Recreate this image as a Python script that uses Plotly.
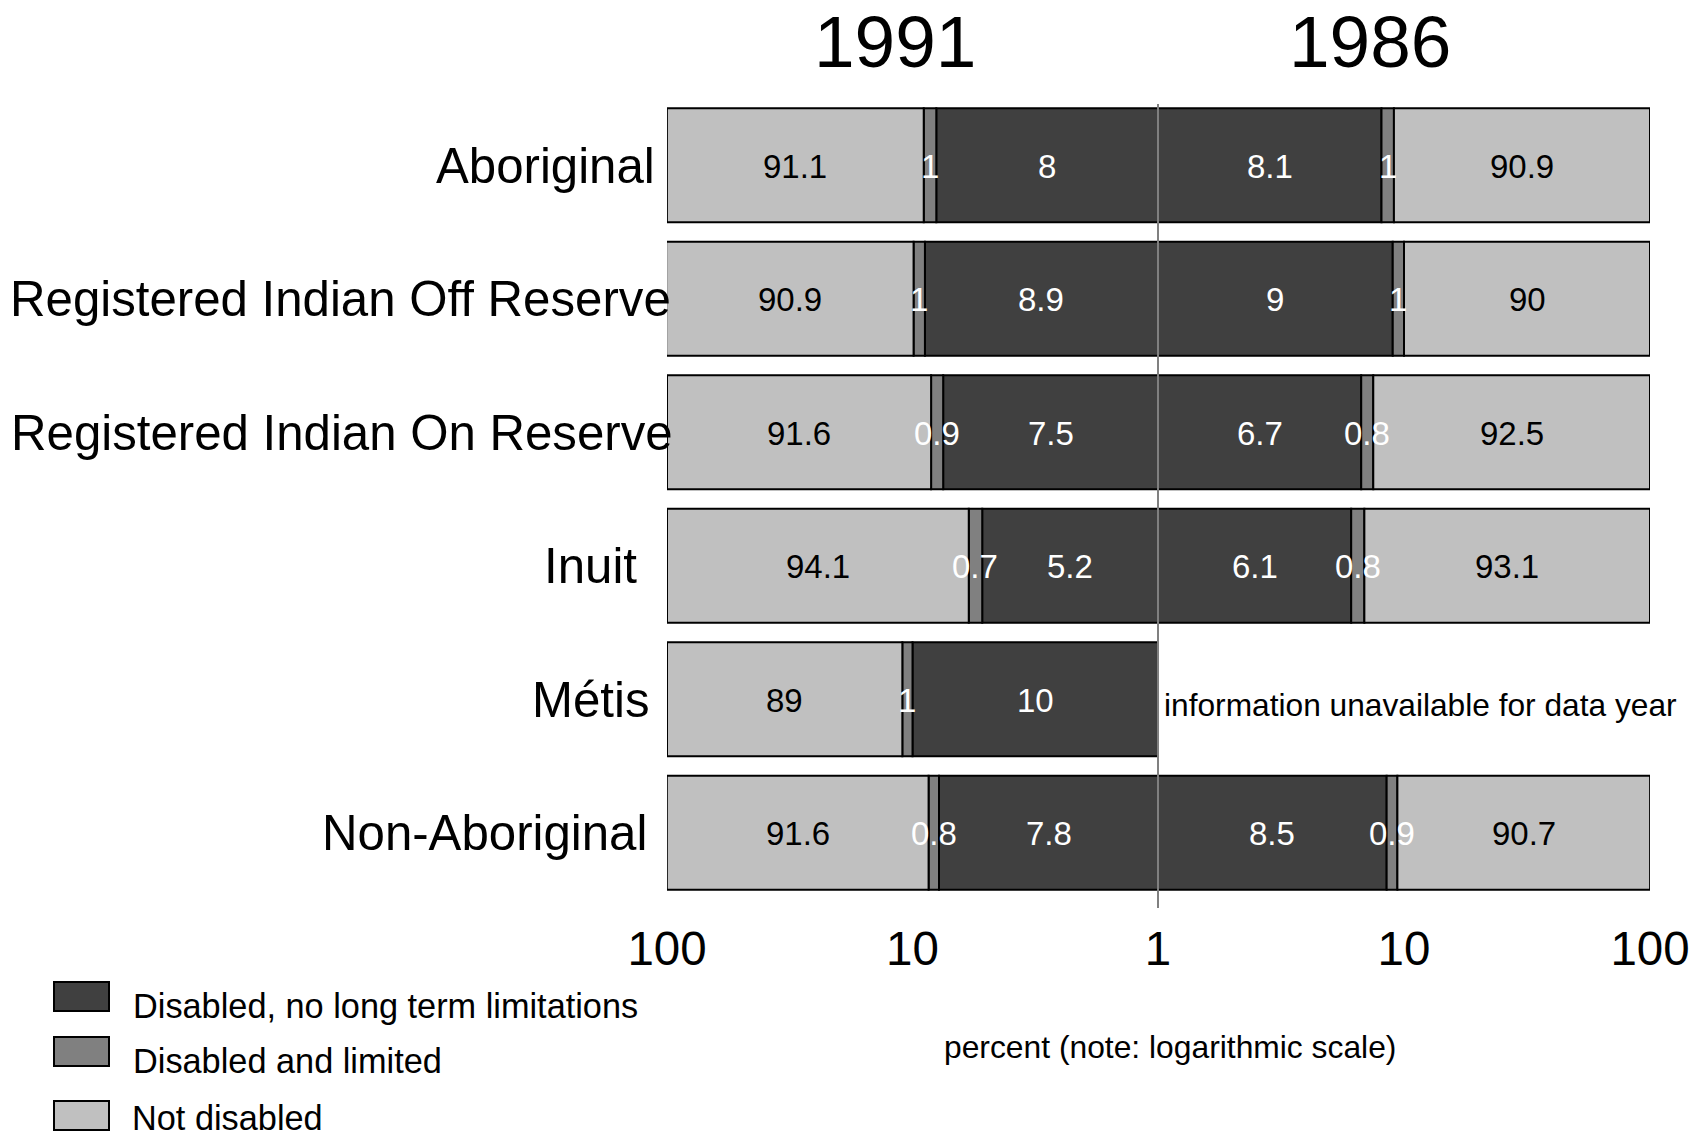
import math
import plotly.graph_objects as go

# ---- data -------------------------------------------------------------
categories = [
    "Aboriginal",
    "Registered Indian Off Reserve",
    "Registered Indian On Reserve",
    "Inuit",
    "Métis",
    "Non-Aboriginal",
]

# 1991 (left panel), percent
no_limit_1991 = [8, 8.9, 7.5, 5.2, 10, 7.8]
limited_1991 = [1, 1, 0.9, 0.7, 1, 0.8]
not_disabled_1991 = [91.1, 90.9, 91.6, 94.1, 89, 91.6]

# 1986 (right panel), percent; Métis not collected that year
no_limit_1986 = [8.1, 9, 6.7, 6.1, None, 8.5]
limited_1986 = [1, 1, 0.8, 0.8, None, 0.9]
not_disabled_1986 = [90.9, 90, 92.5, 93.1, None, 90.7]

series_names = ["Disabled, no long term limitations", "Disabled and limited", "Not disabled"]
year_titles = ["1991", "1986"]
tick_values = [1, 10, 100]
missing_note = "information unavailable for data year"
axis_note = "percent (note: logarithmic scale)"

# ---- styling ----------------------------------------------------------
W, H = 1707, 1138
FONT = "Liberation Sans, Arial, Helvetica, sans-serif"
COLORS = ["#404040", "#808080", "#c0c0c0"]
TEXT_COLORS = ["white", "white", "black"]
BAR_WIDTH = 0.854

PANEL_LEFT, PANEL_MID, PANEL_RIGHT = 667, 1158, 1650
PLOT_TOP, PLOT_BOTTOM = 98.5, 899.5
LABEL_RIGHT = [657, 673, 675, 639, 652, 649]


def px_x(p):
    return p / W


def px_y(p):
    return 1 - p / H


fig = go.Figure()
annotations = []


def add_panel(xaxis, dark, mid, light):
    """Stack the three segments outward from 1 on a log axis."""
    for k, values in enumerate([dark, mid, light]):
        ys, bases, lengths = [], [], []
        for i, cat in enumerate(categories):
            if dark[i] is None:
                continue
            starts = [1, dark[i], dark[i] + mid[i]]
            ends = [dark[i], dark[i] + mid[i], dark[i] + mid[i] + light[i]]
            ys.append(cat)
            bases.append(starts[k])
            lengths.append(ends[k] - starts[k])
            # value label at the segment's centre on the log scale
            annotations.append(dict(
                text=f"{values[i]:g}", xref=xaxis,
                x=(math.log10(starts[k]) + math.log10(ends[k])) / 2,
                xanchor="center", yref="y", y=cat, yanchor="middle",
                yshift=-1, showarrow=False,
                font=dict(family=FONT, size=33, color=TEXT_COLORS[k]),
            ))
        fig.add_trace(go.Bar(
            y=ys, x=lengths, base=bases, orientation="h",
            xaxis=xaxis, yaxis="y", width=BAR_WIDTH,
            marker=dict(color=COLORS[k], line=dict(color="black", width=2)),
            name=series_names[k], showlegend=False, hoverinfo="skip",
            cliponaxis=False,
        ))


add_panel("x", no_limit_1991, limited_1991, not_disabled_1991)
add_panel("x2", no_limit_1986, limited_1986, not_disabled_1986)

axis_common = dict(
    type="log", showgrid=False, zeroline=False, showline=False, ticks="",
    tickfont=dict(family=FONT, size=47.5, color="black"),
    ticklabelstandoff=17, anchor="y",
)

fig.update_layout(
    width=W, height=H, autosize=False,
    margin=dict(l=0, r=0, t=0, b=0),
    template="none",
    paper_bgcolor="white", plot_bgcolor="white",
    barmode="overlay",
    font=dict(family=FONT, color="black"),
    xaxis=dict(
        domain=[px_x(PANEL_LEFT), px_x(PANEL_MID)], range=[2, 0],
        tickvals=tick_values[1:], ticktext=[str(v) for v in tick_values[1:]],
        **axis_common,
    ),
    xaxis2=dict(
        domain=[px_x(PANEL_MID), px_x(PANEL_RIGHT)], range=[0, 2],
        tickvals=tick_values, ticktext=[str(v) for v in tick_values],
        **axis_common,
    ),
    yaxis=dict(
        domain=[px_y(PLOT_BOTTOM), px_y(PLOT_TOP)],
        type="category", categoryorder="array", categoryarray=categories,
        range=[len(categories) - 0.5, -0.5],
        showticklabels=False, showgrid=False, zeroline=False, showline=False,
        ticks="",
    ),
    showlegend=False,
)

# category labels
for cat, right in zip(categories, LABEL_RIGHT):
    annotations.append(dict(
        text=cat, xref="paper", x=px_x(right), xanchor="right",
        yref="y", y=cat, yanchor="middle", showarrow=False,
        font=dict(family=FONT, size=49.2, color="black"),
    ))

# year titles
for title, cx in zip(year_titles, [895, 1370]):
    annotations.append(dict(
        text=title, xref="paper", x=px_x(cx), xanchor="center",
        yref="paper", y=1, yanchor="top", borderpad=0, showarrow=False,
        font=dict(family=FONT, size=73, color="black"),
    ))

# note for the missing 1986 Métis row
annotations.append(dict(
    text=missing_note, xref="x2 domain", x=0.008, xanchor="left",
    yref="y", y="Métis", yanchor="middle", yshift=-6, showarrow=False,
    font=dict(family=FONT, size=31.7, color="black"),
))

# axis note
annotations.append(dict(
    text=axis_note, xref="paper", x=px_x(1170), xanchor="center",
    yref="paper", y=px_y(1047), yanchor="middle", showarrow=False,
    font=dict(family=FONT, size=31.8, color="black"),
))

# legend
shapes = []
legend_rows = [(982, 1011, 1006), (1037, 1066, 1061), (1101, 1130, None)]
for k, (top, bottom, text_y) in enumerate(legend_rows):
    shapes.append(dict(
        type="rect", xref="paper", yref="paper",
        x0=px_x(54), x1=px_x(109), y0=px_y(bottom), y1=px_y(top),
        fillcolor=COLORS[k], line=dict(color="black", width=2),
    ))
    if text_y is None:
        pos = dict(y=0, yanchor="bottom", borderpad=0)
    else:
        pos = dict(y=px_y(text_y), yanchor="middle")
    annotations.append(dict(
        text=series_names[k], xref="paper", x=px_x(131), xanchor="left",
        yref="paper", showarrow=False,
        font=dict(family=FONT, size=34.3, color="black"), **pos,
    ))

# divider at 1 between the two panels
shapes.append(dict(
    type="line", xref="x2 domain", x0=0, x1=0,
    yref="paper", y0=px_y(908), y1=px_y(104),
    line=dict(color="#808080", width=2), layer="above",
))

fig.update_layout(annotations=annotations, shapes=shapes)

fig.write_html("out.html")
